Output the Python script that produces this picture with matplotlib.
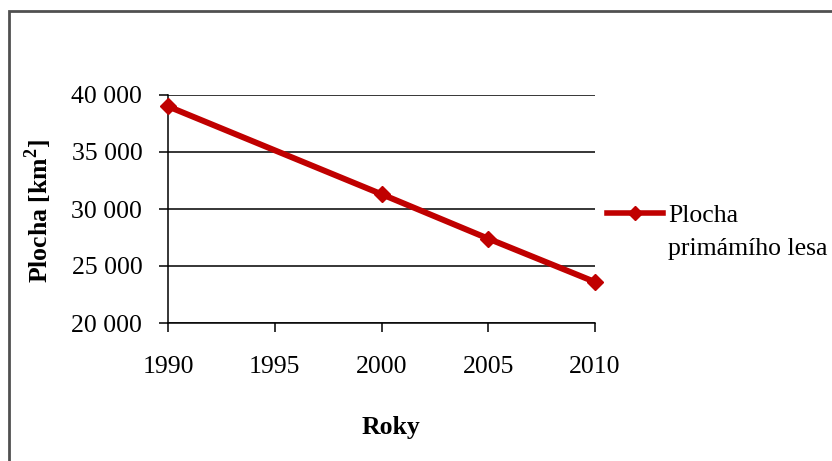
import matplotlib
matplotlib.use("Agg")
import matplotlib.pyplot as plt
from matplotlib.patches import Rectangle
from matplotlib.lines import Line2D

years = [1990, 2000, 2005, 2010]
area_km2 = [39000, 31300, 27400, 23600]
x_ticks = [1990, 1995, 2000, 2005, 2010]
y_ticks = [20000, 25000, 30000, 35000, 40000]
y_tick_labels = ["20 000", "25 000", "30 000", "35 000", "40 000"]
series_name = ["Plocha", "primámího lesa"]

plt.rcParams["font.family"] = ["Liberation Serif", "DejaVu Serif"]
plt.rcParams["mathtext.fontset"] = "custom"
plt.rcParams["mathtext.rm"] = "Liberation Serif"
plt.rcParams["mathtext.bf"] = "Liberation Serif:bold"

W, H = 832, 461
fig = plt.figure(figsize=(W / 100, H / 100), dpi=100)
fig.patch.set_facecolor("white")

# outer chart frame (only its top-left part lies inside the canvas)
fig.patches.append(Rectangle((9 / W, -0.1), 1.2, 1 - 11 / H + 0.1,
                             transform=fig.transFigure, fill=False,
                             edgecolor="#505050", linewidth=2.0))

ax = fig.add_axes([168 / W, 1 - 323 / H, (595 - 168) / W, (323 - 95) / H])
red = "#C00000"
ax.plot(years, area_km2, color=red, linewidth=4.3, marker="D", markersize=8.5,
        markerfacecolor=red, markeredgecolor=red, clip_on=False, zorder=3)

ax.set_xlim(1990, 2010)
ax.set_ylim(20000, 40000)
ax.set_xticks(x_ticks)
ax.set_xticklabels([str(t) for t in x_ticks])
ax.set_yticks(y_ticks)
ax.set_yticklabels(y_tick_labels)
ax.tick_params(axis="both", direction="out", length=6.5, width=1.1,
               color="black", labelsize=18.5)
ax.tick_params(axis="x", pad=17)
ax.tick_params(axis="y", pad=12)

for s in ["top", "right"]:
    ax.spines[s].set_visible(False)
for s in ["left", "bottom"]:
    ax.spines[s].set_color("black")
    ax.spines[s].set_linewidth(1.1)
ax.yaxis.grid(True, color="black", linewidth=1.1)
ax.set_axisbelow(True)

fig.text(38 / W, 1 - 211 / H, r"Plocha [km$^{\mathbf{2}}$]", rotation=90,
         ha="center", va="center", fontsize=18.5, fontweight="bold")
fig.text(391 / W, 1 - 427 / H, "Roky", ha="center", va="center",
         fontsize=18.5, fontweight="bold")

# legend key: line with a diamond marker, label on two lines
fig.add_artist(Line2D([607 / W, 663 / W], [1 - 213 / H, 1 - 213 / H],
                      transform=fig.transFigure, color=red, linewidth=4))
fig.add_artist(Line2D([635 / W], [1 - 213 / H], transform=fig.transFigure,
                      color=red, marker="D", markersize=7.5,
                      markerfacecolor=red, markeredgecolor=red))
fig.text(668 / W, 1 - 222 / H, series_name[0], ha="left", va="baseline",
         fontsize=18.5)
fig.text(668 / W, 1 - 255 / H, series_name[1], ha="left", va="baseline",
         fontsize=18.5)

fig.savefig("out.png", dpi=100)
